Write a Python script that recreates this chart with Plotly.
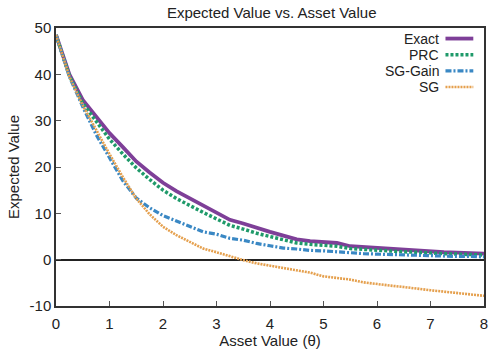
import plotly.graph_objects as go

# Asset value grid (theta)
theta = [0.0, 0.25, 0.5, 0.75, 1.0, 1.25, 1.5, 1.75, 2.0, 2.25, 2.5, 2.75,
         3.0, 3.25, 3.5, 3.75, 4.0, 4.25, 4.5, 4.75, 5.0, 5.25, 5.5, 5.75,
         6.0, 6.25, 6.5, 6.75, 7.0, 7.25, 7.5, 7.75, 8.0]

exact = [48.5, 40.0, 34.5, 30.8, 27.3, 24.3, 21.2, 18.8, 16.6, 14.8, 13.2, 11.6,
         10.2, 8.6, 7.8, 6.8, 6.0, 5.2, 4.4, 4.0, 3.8, 3.6, 2.9, 2.7,
         2.4, 2.2, 2.0, 1.9, 1.7, 1.6, 1.5, 1.4, 1.3]

prc = [48.5, 39.7, 33.8, 29.8, 26.0, 22.8, 19.8, 17.3, 15.0, 13.2, 11.6, 10.2,
       8.8, 7.4, 6.6, 5.7, 5.0, 4.3, 3.6, 3.3, 3.1, 2.9, 2.4, 2.2,
       2.0, 1.8, 1.7, 1.6, 1.4, 1.3, 1.2, 1.1, 1.0]

sg_gain = [48.5, 39.5, 33.0, 27.0, 22.0, 17.0, 13.3, 11.2, 9.5, 8.3, 7.2, 6.0,
           5.5, 4.6, 4.2, 3.5, 3.0, 2.5, 2.3, 2.0, 1.9, 1.7, 1.4, 1.3,
           1.2, 1.1, 1.0, 0.9, 0.8, 0.8, 0.7, 0.7, 0.6]

sg = [48.5, 39.5, 33.3, 28.0, 22.8, 17.8, 13.2, 9.8, 7.1, 5.3, 3.8, 2.4,
      1.6, 0.7, -0.1, -0.8, -1.3, -1.8, -2.2, -2.8, -3.6, -4.0, -4.3, -4.9,
      -5.3, -5.6, -5.9, -6.3, -6.6, -6.9, -7.2, -7.5, -7.8]

y_ticks = [-10, 0, 10, 20, 30, 40, 50]
y_tick_labels = ["-10", "0", "10", "20", "30", "40", "50"]
x_ticks = [0, 1, 2, 3, 4, 5, 6, 7, 8]

names = ["Exact", "PRC", "SG-Gain", "SG"]
colors = ["#7e3f98", "#1f9a6a", "#3a88c4", "#e5a04e"]
dashes = ["solid", "3px,2px", "6px,2px,2px,2px", "2px,1px"]
widths = [3.8, 3.5, 3.2, 2.6]
series = [exact, prc, sg_gain, sg]

FONT = "Liberation Sans, Arial, Helvetica, sans-serif"
TXT = "#222"

fig = go.Figure()
for name, ys, c, d, w in zip(names, series, colors, dashes, widths):
    fig.add_trace(go.Scatter(x=theta, y=ys, mode="lines", name=name,
                             line=dict(color=c, dash=d, width=w),
                             showlegend=False))

# Key in the top-right corner: right-aligned labels with sample lines after them
for i, (name, c, d, w) in enumerate(zip(names, colors, dashes, widths)):
    yk = 0.962 - i * 0.058
    fig.add_annotation(x=0.897, y=yk, xref="paper", yref="paper", text=name,
                       showarrow=False, xanchor="right", yanchor="middle",
                       borderpad=0,
                       font=dict(size=14, color=TXT, family=FONT))
    fig.add_shape(type="line", xref="paper", yref="paper",
                  x0=0.910, x1=0.975, y0=yk, y1=yk,
                  line=dict(color=c, dash=d, width=w))

axis_common = dict(showline=True, linecolor="#333", linewidth=1.5, mirror=True,
                   ticks="inside", ticklen=5, tickcolor="#555", showgrid=False,
                   tickfont=dict(size=15, color=TXT, family=FONT))

fig.update_xaxes(range=[0, 8], tickmode="array", tickvals=x_ticks,
                 zeroline=False, ticklabelstandoff=3,
                 title=dict(text="Asset Value (θ)", standoff=2,
                            font=dict(size=15, color=TXT, family=FONT)),
                 **axis_common)
fig.update_yaxes(range=[-10, 50], tickmode="array", tickvals=y_ticks,
                 ticktext=y_tick_labels, zeroline=True,
                 zerolinecolor="#222", zerolinewidth=1.5,
                 title=dict(text="Expected Value", standoff=6,
                            font=dict(size=15, color=TXT, family=FONT)),
                 **axis_common)

fig.update_layout(
    width=494, height=350,
    margin=dict(l=56, r=6, t=28, b=43),
    paper_bgcolor="white", plot_bgcolor="white",
    title=dict(text="Expected Value vs. Asset Value", x=0.55, xanchor="center",
               y=0.965, yanchor="middle",
               font=dict(size=15, color=TXT, family=FONT)),
)

fig.write_html("out.html")
